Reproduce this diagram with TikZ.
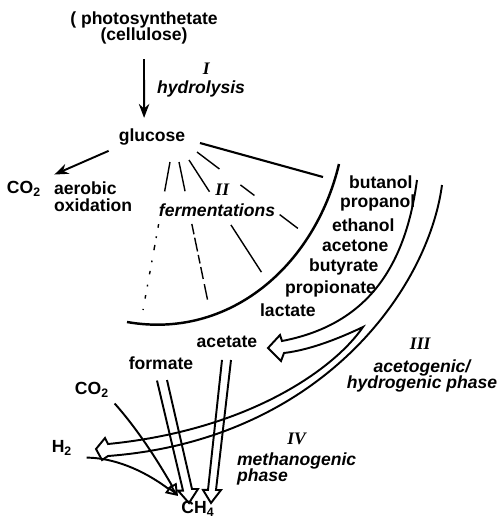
\documentclass[tikz,border=0pt]{standalone}
\usepackage{fontspec}
\setmainfont{Liberation Sans}
\newfontfamily\romfont{Liberation Serif}
\usepackage{tikz}
\usetikzlibrary{positioning,arrows.meta,calc}

\begin{document}
\begin{tikzpicture}[
    x=0.02cm,
    y=-0.02cm,
    >=Stealth,
    font=\bfseries,
    every node/.style={align=center, inner sep=1pt},
    twoline/.style={font=\bfseries\linespread{0.8}\selectfont},
    stage/.style={font=\bfseries\itshape\linespread{0.8}\selectfont},
    numeral/.style={font=\romfont\bfseries\itshape},
    product/.style={anchor=west},
    flow/.style={line width=1.1pt},
    ray/.style={line width=0.8pt},
    hollow/.style={line width=1.1pt, line join=miter}
]
\useasboundingbox (0,0) rectangle (501,525);

% Hydrolysis
\node[twoline] (substrate) at (144,28) {( photosynthetate\\(cellulose)};
\node (glucose) at (152,137) {glucose};
\node[stage] (hydro) at (201,89) {hydrolysis};
\node[numeral, above=1pt of hydro, xshift=3pt] (one) {I};

\draw[->, flow]
    ([yshift=-7pt]substrate.south) -- ([xshift=-4.5pt,yshift=5pt]glucose.north);

% Aerobic oxidation
\node (co2top) at (24,189) {CO\textsubscript{2}};
\node[
    twoline,
    anchor=west,
    align=left
] (aerobic) at (52,197) {aerobic\\oxidation};

\draw[->, flow, shorten <=5pt, shorten >=7pt]
    (glucose.south west) -- (co2top.north east);

% Fermentations
\node[stage] (ferm) at (217,210) {fermentations};
\node[numeral, above=2pt of ferm, xshift=3pt] (two) {II};

\coordinate (arcTop) at (339,164);
\coordinate (arcEnd) at (127,322);
\draw[line width=1.4pt]
    (arcTop) .. controls (315,265) and (230,340) .. (arcEnd);

\coordinate (r1a) at (200,143);
\coordinate (r1b) at (323,177);
\coordinate (r2a) at (197,152);
\coordinate (r2b) at (300,230);
\coordinate (r3a) at (189,160);
\coordinate (r3b) at (262,273);
\coordinate (r4a) at (179,162);
\coordinate (r4b) at (208,302);
\coordinate (r5a) at (170,162);
\coordinate (r5b) at (143,310);

\draw[ray, line width=1.2pt] (r1a) -- (r1b);
\draw[ray, dash pattern=on 16pt off 15pt on 10pt off 18pt on 13pt] (r2a) -- (r2b);
\draw[ray, dash pattern=on 21.5pt off 22.5pt on 32pt] (r3a) -- (r3b);
\draw[ray, dash pattern=on 17pt off 19pt on 6pt off 2pt on 8pt off 2pt on 5pt off 2pt on 7pt off 3pt on 9pt]
    (r4a) -- (r4b);
\draw[ray, dash pattern=on 17pt off 19pt on 2pt off 5pt on 1pt off 4pt on 3pt off 6pt on 1pt off 5pt on 2pt off 6pt on 1pt off 5pt on 2pt off 6pt]
    (r5a) -- (r5b);

% Products
\node[product] (butanol) at (347,182) {butanol};
\node[product] (propanol) at (338,203) {propanol};
\node[product] (ethanol) at (330,225) {ethanol};
\node[product] (acetone) at (320,246) {acetone};
\node[product] (butyrate) at (307,267) {butyrate};
\node[product] (propionate) at (283,289) {propionate};
\node[product] (lactate) at (258,310) {lactate};

% Acetogenic / hydrogenic phase
\node (acetate) at (227,342) {acetate};
\node (formate) at (161,363) {formate};
\node (h2) at (62,448) {H\textsubscript{2}};
\node[stage] (aceto) at (422,376) {acetogenic/\\hydrogenic phase};
\node[numeral, above=3pt of aceto, xshift=-1pt] (three) {III};

\coordinate (aTop) at (417,180);
\coordinate (bTop) at (442,185);
\coordinate (split) at (363,327);
\coordinate (acUp) at (282,341);
\coordinate (acLow) at (284,353);
\coordinate (acTip) at (268,348);
\coordinate (hUp) at (108,444);
\coordinate (hLow) at (108,456);
\coordinate (hTip) at (96,449);

\draw[hollow]
    (aTop) .. controls (405,270) and (365,325) .. (acUp)
    -- ++(-2,-6) -- (acTip) -- ++(13,13) -- (acLow)
    .. controls (310,350) and (340,338) .. (split)
    .. controls (335,368) and (250,430) .. (hUp)
    -- ++(-3,-6) -- (hTip) -- ++(6,11) -- (hLow)
    .. controls (320,440) and (428,290) .. (bTop);

% Methanogenic phase
\node (co2low) at (92,390) {CO\textsubscript{2}};
\node (ch4) at (198,509) {CH\textsubscript{4}};
\node[stage, anchor=west, align=left] (metha) at (235,469) {methanogenic\\phase};
\node[numeral, above=2pt of metha.north] (four) {IV};

\coordinate (fmTip) at (189,503);
\coordinate (acdTip) at (211,503);
\coordinate (ch4in) at (178,496);

\draw[hollow]
    (formate.south) ++(-4,9) -- ++(26,110) -- ++(-5,0) -- (fmTip)
    -- ++(9,-14) -- ++(-6,0) -- ++(-25,-109);
\draw[hollow]
    (acetate.south) ++(-5,10) -- ++(-14,130) -- ++(-5,0) -- (acdTip)
    -- ++(10,-13) -- ++(-5,0) -- ++(15,-130);

\draw[-{Triangle[open, length=7pt, width=6pt]}, flow, shorten <=3pt]
    (co2low.south east) .. controls (140,432) and (160,465) .. (ch4in);
\draw[-{Triangle[open, length=7pt, width=6pt]}, flow, shorten <=7pt]
    (h2.south east) .. controls (120,458) and (150,475) .. (ch4in);

\end{tikzpicture}
\end{document}
